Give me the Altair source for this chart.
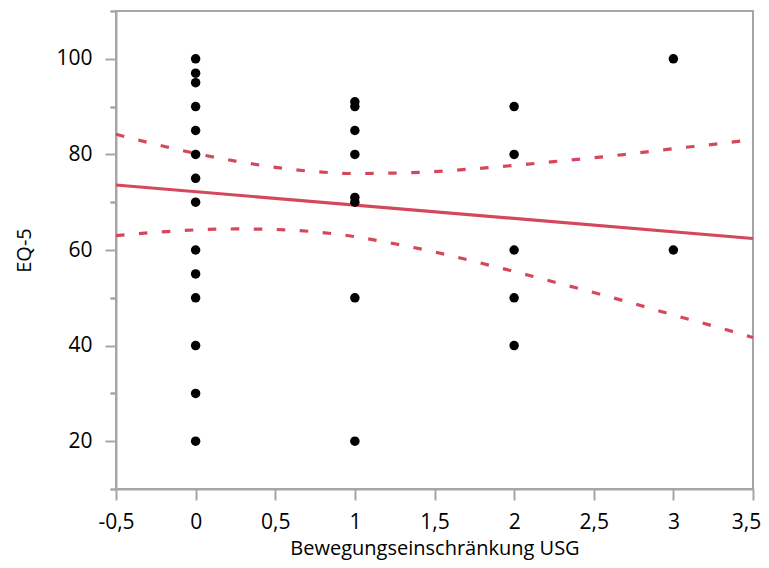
import altair as alt
import pandas as pd

# --- data ---
usg = [0, 0, 0, 0, 0, 0, 0, 0, 0, 0, 0, 0, 0, 0,
       1, 1, 1, 1, 1, 1, 1, 1,
       2, 2, 2, 2, 2,
       3, 3]
eq5 = [100, 97, 95, 90, 85, 80, 75, 70, 60, 55, 50, 40, 30, 20,
       91, 90, 85, 80, 71, 70, 50, 20,
       90, 80, 60, 50, 40,
       100, 60]

fit_x = [-0.5, 3.5]
fit_y = [73.6, 62.4]

ci_x = [-0.5, -0.25, 0, 0.25, 0.5, 0.75, 1, 1.25, 1.5, 1.75, 2, 2.25, 2.5, 2.75, 3, 3.25, 3.5]
ci_upper = [84.2, 82.1, 80.2, 78.6, 77.3, 76.4, 76.0, 76.1, 76.4, 77.0, 77.7, 78.5, 79.3, 80.2, 81.2, 82.1, 83.1]
ci_lower = [63.0, 63.7, 64.2, 64.4, 64.3, 63.8, 62.8, 61.3, 59.6, 57.6, 55.5, 53.3, 51.1, 48.8, 46.4, 44.1, 41.7]

x_ticks = [-0.5, 0, 0.5, 1, 1.5, 2, 2.5, 3, 3.5]
y_major = [20, 40, 60, 80, 100]
y_minor = [10, 30, 50, 70, 90, 110]

RED = "#d5485b"
GREY = "#a6a6a6"
FONT = "Open Sans"

pts = pd.DataFrame({"x": usg, "y": eq5})
fit = pd.DataFrame({"x": fit_x, "y": fit_y})
ci = pd.DataFrame({
    "x": ci_x + ci_x,
    "y": ci_upper + ci_lower,
    "band": ["upper"] * len(ci_x) + ["lower"] * len(ci_x),
})

xscale = alt.Scale(domain=[-0.5, 3.5], nice=False, zero=False)
yscale = alt.Scale(domain=[10, 110], nice=False, zero=False)

xaxis = alt.Axis(values=x_ticks, title="Bewegungseinschränkung USG",
                 labelExpr="replace(toString(datum.value), '.', ',')",
                 labelOffset={"condition": {"test": "datum.value == 3.5", "value": -7}, "value": 0},
                 tickSize=11, labelPadding=11, titlePadding=6, titleFontSize=20,
                 labelFlush=False, labelOverlap=False)
yaxis_major = alt.Axis(values=y_major, title="EQ-5", orient="left",
                       tickSize=11, labelPadding=13, titlePadding=21, titleFontSize=20)
yaxis_minor = alt.Axis(values=y_minor, title=None, orient="left",
                       tickSize=6, labels=False, domain=False)

fit_line = alt.Chart(fit).mark_line(color=RED, strokeWidth=3.2).encode(
    x=alt.X("x:Q", scale=xscale, axis=xaxis),
    y=alt.Y("y:Q", scale=yscale, axis=yaxis_minor),
)

ci_lines = alt.Chart(ci).mark_line(color=RED, strokeWidth=3.2, strokeDash=[8.5, 14.5],
                                   interpolate="monotone").encode(
    x=alt.X("x:Q", scale=xscale, axis=xaxis),
    y=alt.Y("y:Q", scale=yscale, axis=yaxis_minor),
    detail="band:N",
)

points = alt.Chart(pts).mark_circle(size=90, color="black", opacity=1).encode(
    x=alt.X("x:Q", scale=xscale, axis=xaxis),
    y=alt.Y("y:Q", scale=yscale, axis=yaxis_major),
)

chart = alt.layer(fit_line, ci_lines, points).resolve_axis(y="independent").properties(
    width=637, height=478,
    autosize=alt.AutoSizeParams(type="none"),
    padding={"left": 108, "top": 3, "right": 8, "bottom": 71},
).configure_view(
    stroke=GREY, strokeWidth=2
).configure_axis(
    domainColor=GREY, domainWidth=2, tickColor=GREY, tickWidth=2, grid=False,
    labelFont=FONT, titleFont=FONT, labelFontSize=21, titleFontSize=21,
    titleFontWeight="normal", labelColor="black", titleColor="black",
)

chart.save("out.html", embed_options={"renderer": "svg", "actions": False})
